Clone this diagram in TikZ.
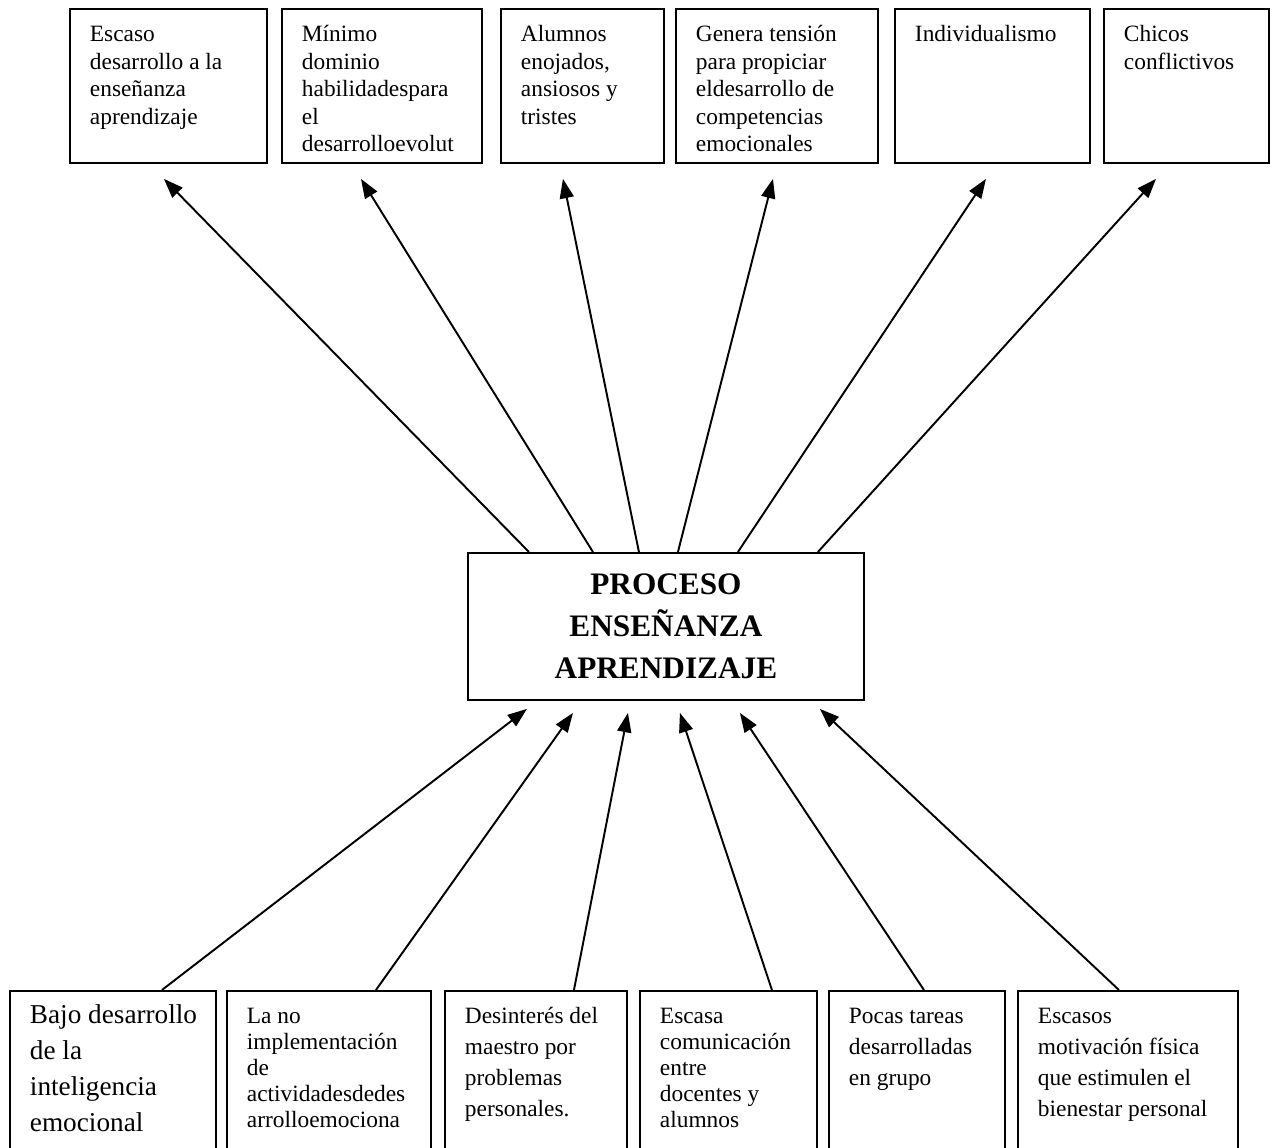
\documentclass[tikz,border=0pt]{standalone}
\usepackage{fontspec}
\setmainfont{Liberation Serif}
\usetikzlibrary{arrows.meta}
\newcommand{\boxtext}[3]{\parbox[c][#2][t]{#1}{\raggedright\leftskip=0.4cm\rule{0pt}{0.66cm}#3}}

\begin{document}
\begin{tikzpicture}[x=0.02cm,y=-0.02cm,
  box/.style={draw,line width=1.1pt,inner sep=0pt,anchor=north west},
  fs/.style 2 args={font=\fontsize{#1}{#2}\selectfont},
  arr/.style={line width=1.1pt,-{Triangle[length=11pt,width=8pt]}}]
\useasboundingbox (0,0) rectangle (1273,1148);
\clip (0,0) rectangle (1273,1148);

% efectos
\node[box,fs={13.3}{15.6}] (e1) at (69,8) {\boxtext{3.94cm}{3.08cm}{Escaso\\desarrollo a la\\enseñanza\\aprendizaje}};
\node[box,fs={13.3}{15.6}] (e2) at (281,8) {\boxtext{4cm}{3.08cm}{Mínimo\\dominio\\habilidadespara\\el\\desarrolloevolut}};
\node[box,fs={13.3}{15.6}] (e3) at (500,8) {\boxtext{3.26cm}{3.08cm}{Alumnos\\enojados,\\ansiosos y\\tristes}};
\node[box,fs={13.3}{15.6}] (e4) at (675,8) {\boxtext{4.04cm}{3.08cm}{Genera tensión\\para propiciar\\eldesarrollo de\\competencias\\emocionales}};
\node[box,fs={13.3}{15.6}] (e5) at (894,8) {\boxtext{3.9cm}{3.08cm}{Individualismo}};
\node[box,fs={13.3}{15.6}] (e6) at (1103,8) {\boxtext{3.3cm}{3.08cm}{Chicos\\conflictivos}};

\node[box,minimum width=7.92cm,minimum height=2.94cm,align=center,
  font=\fontsize{17.8}{23.8}\selectfont\bfseries] (proc) at (467,552) {PROCESO\\ENSEÑANZA\\APRENDIZAJE};

% causas
\node[box,fs={15.5}{20.4}] (c1) at (9,990) {\boxtext{4.12cm}{4cm}{Bajo desarrollo\\de la\\inteligencia\\emocional}};
\node[box,fs={13.3}{14.8}] (c2) at (226,990) {\boxtext{4.08cm}{4cm}{La no\\implementación\\de\\actividadesdedes\\arrolloemociona}};
\node[box,fs={13.3}{17.6}] (c3) at (444,990) {\boxtext{3.64cm}{4cm}{Desinterés del\\maestro por\\problemas\\personales.}};
\node[box,fs={13.3}{14.8}] (c4) at (639,990) {\boxtext{3.54cm}{4cm}{Escasa\\comunicación\\entre\\docentes y\\alumnos}};
\node[box,fs={13.3}{17.6}] (c5) at (828,990) {\boxtext{3.52cm}{4cm}{Pocas tareas\\desarrolladas\\en grupo}};
\node[box,fs={13.3}{17.6}] (c6) at (1017,990) {\boxtext{4.4cm}{4cm}{Escasos\\motivación física\\que estimulen el\\bienestar personal}};

\draw[arr] ([xshift=-2.74cm]proc.north) -- ([xshift=-0.09cm,yshift=-0.3cm]e1.south);
\draw[arr] ([xshift=-1.46cm]proc.north) -- ([xshift=-0.42cm,yshift=-0.3cm]e2.south);
\draw[arr] ([xshift=-0.54cm]proc.north) -- ([xshift=-0.39cm,yshift=-0.3cm]e3.south);
\draw[arr] ([xshift=0.24cm]proc.north) -- ([xshift=-0.08cm,yshift=-0.3cm]e4.south);
\draw[arr] ([xshift=1.44cm]proc.north) -- ([xshift=-0.13cm,yshift=-0.3cm]e5.south);
\draw[arr] ([xshift=3.04cm]proc.north) -- ([xshift=-0.61cm,yshift=-0.3cm]e6.south);

\draw[arr] ([xshift=0.98cm]c1.north) -- ([xshift=-2.78cm,yshift=-0.16cm]proc.south);
\draw[arr] ([xshift=0.94cm]c2.north) -- ([xshift=-1.86cm,yshift=-0.24cm]proc.south);
\draw[arr] ([xshift=0.76cm]c3.north) -- ([xshift=-0.76cm,yshift=-0.24cm]proc.south);
\draw[arr] ([xshift=0.87cm]c4.north) -- ([xshift=0.28cm,yshift=-0.24cm]proc.south);
\draw[arr] ([xshift=0.14cm]c5.north) -- ([xshift=1.48cm,yshift=-0.24cm]proc.south);
\draw[arr] ([xshift=-0.18cm]c6.north) -- ([xshift=3.08cm,yshift=-0.16cm]proc.south);
\end{tikzpicture}
\end{document}
